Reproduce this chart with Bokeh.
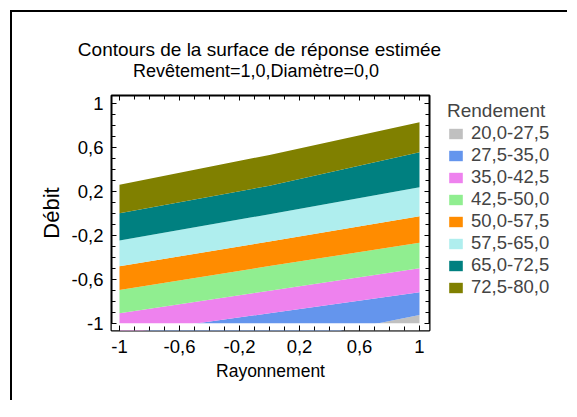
import numpy as np
from bokeh.plotting import figure
from bokeh.layouts import column, row
from bokeh.models import (Range1d, LinearAxis, FixedTicker, Legend, LegendItem, Label)
from bokeh.embed import file_html
from bokeh.resources import INLINE

# ---- data ----
title_line1 = "Contours de la surface de réponse estimée"
title_line2 = "Revêtement=1,0,Diamètre=0,0"
x_label = "Rayonnement"
y_label = "Débit"
legend_title = "Rendement"

levels = ["20,0-27,5", "27,5-35,0", "35,0-42,5", "42,5-50,0",
          "50,0-57,5", "57,5-65,0", "65,0-72,5", "72,5-80,0"]
band_colors = ["#C0C0C0", "#6495ED", "#EE82EE", "#90EE90",
               "#FF8C00", "#AFEEEE", "#008080", "#808000"]

# Rayonnement positions at which the contour boundaries were read
x_pts = [-1.0, 0.0, 1.0]
# Débit of each contour boundary at x_pts (values below -1 lie outside the plotted square)
b_27_5 = [-1.50, -1.20, -0.925]
b_35_0 = [-1.10, -0.909, -0.718]
b_42_5 = [-0.909, -0.704, -0.50]
b_50_0 = [-0.697, -0.480, -0.269]
b_57_5 = [-0.482, -0.257, -0.027]
b_65_0 = [-0.248, -0.009, 0.236]
b_72_5 = [0.000, 0.250, 0.555]
b_80_0 = [0.258, 0.530, 0.827]

tick_values = [-1, -0.6, -0.2, 0.2, 0.6, 1]
tick_labels = ["-1", "-0,6", "-0,2", "0,2", "0,6", "1"]
minor_values = [round(-1 + 0.1 * i, 1) for i in range(21)]

FONT = "Liberation Sans"

def bare(fig):
    fig.title = None
    fig.outline_line_color = None
    fig.xgrid.visible = False
    fig.ygrid.visible = False
    fig.background_fill_color = "white"
    fig.border_fill_color = "white"

# ---- title strip ----
t_fig = figure(width=550, height=70, output_backend="svg", toolbar_location=None,
               x_range=Range1d(0, 550), y_range=Range1d(70, 0),
               min_border=0, x_axis_location=None, y_axis_location=None)
bare(t_fig)
t_fig.add_layout(Label(x=247, y=36.5, text=title_line1, text_align="center",
                       text_baseline="alphabetic", text_font=FONT,
                       text_font_size="19px", text_color="black"))
t_fig.add_layout(Label(x=243.5, y=58, text=title_line2, text_align="center",
                       text_baseline="alphabetic", text_font=FONT,
                       text_font_size="18px", text_color="black"))

# ---- main plot ----
XR = (-1.0533, 1.0667)
YR = (-1.066, 1.07)
p = figure(frame_width=318, frame_height=235, output_backend="svg", toolbar_location=None,
           x_range=Range1d(*XR), y_range=Range1d(*YR),
           min_border_left=99, min_border_right=13, min_border_top=13, min_border_bottom=70,
           x_axis_label=x_label, y_axis_label=y_label)
p.title = None
p.xgrid.visible = False
p.ygrid.visible = False
p.outline_line_color = "black"
p.outline_line_width = 2
p.background_fill_color = "white"
p.border_fill_color = "white"

bottom_edge = [YR[0]] * len(x_pts)
bounds = [bottom_edge, b_27_5, b_35_0, b_42_5, b_50_0, b_57_5, b_65_0, b_72_5, b_80_0]

for i, col in enumerate(band_colors):
    p.varea(x=x_pts, y1=bounds[i], y2=bounds[i + 1], fill_color=col)

# white strip below Débit = -1 (the surface is only drawn on the square)
p.quad(left=XR[0], right=XR[1], bottom=YR[0], top=-1, fill_color="white", line_color=None)

overrides = {}
for v, t in zip(tick_values, tick_labels):
    overrides[float(v)] = t
    overrides[str(v)] = t

def style_axis(ax, show_labels=True):
    ax.ticker = FixedTicker(ticks=tick_values, minor_ticks=minor_values)
    ax.major_label_overrides = overrides
    ax.axis_line_color = None
    ax.major_tick_in = 5
    ax.major_tick_out = 0
    ax.minor_tick_in = 4
    ax.minor_tick_out = 0
    ax.major_tick_line_color = "black"
    ax.minor_tick_line_color = "black"
    ax.major_label_text_font = FONT
    ax.major_label_text_font_size = "18.5px"
    ax.major_label_text_color = "black" if show_labels else None
    ax.axis_label_text_font = FONT
    ax.axis_label_text_font_style = "normal"
    ax.axis_label_text_color = "black"

style_axis(p.xaxis[0])
style_axis(p.yaxis[0])
p.xaxis[0].major_label_standoff = 9
p.xaxis[0].axis_label_standoff = 5
p.xaxis[0].axis_label_text_font_size = "17.5px"
p.yaxis[0].major_label_standoff = 8
p.yaxis[0].axis_label_standoff = 5
p.yaxis[0].axis_label_text_font_size = "22px"

top_ax = LinearAxis()
right_ax = LinearAxis()
style_axis(top_ax, show_labels=False)
style_axis(right_ax, show_labels=False)
top_ax.major_label_text_font_size = "1px"
right_ax.major_label_text_font_size = "1px"
top_ax.major_label_standoff = 0
right_ax.major_label_standoff = 0
p.add_layout(top_ax, "above")
p.add_layout(right_ax, "right")

# ---- legend strip (same band data, kept out of this strip's view) ----
l_fig = figure(width=125, height=318, output_backend="svg", toolbar_location=None,
               x_range=Range1d(10, 135), y_range=Range1d(318, 0),
               min_border=0, x_axis_location=None, y_axis_location=None)
bare(l_fig)
items = []
for i, (lab, col) in enumerate(zip(levels, band_colors)):
    r = l_fig.varea(x=x_pts, y1=bounds[i], y2=bounds[i + 1], fill_color=col)
    items.append(LegendItem(label=lab, renderers=[r]))
legend = Legend(items=items, location="top_left", padding=0, margin=5, spacing=0,
                glyph_width=17, glyph_height=13, label_standoff=7,
                label_text_font=FONT, label_text_font_size="18.5px",
                title=legend_title, title_text_font=FONT, title_text_font_size="19px",
                title_text_font_style="normal", title_standoff=0,
                border_line_color=None, background_fill_alpha=0)
l_fig.add_layout(legend, "center")

layout = column(t_fig, row(p, l_fig))
layout.styles = {"border-left": "2px solid black", "border-top": "2px solid black",
                 "margin-left": "10px", "margin-top": "10px"}

open("out.html", "w").write(file_html(layout, INLINE))
